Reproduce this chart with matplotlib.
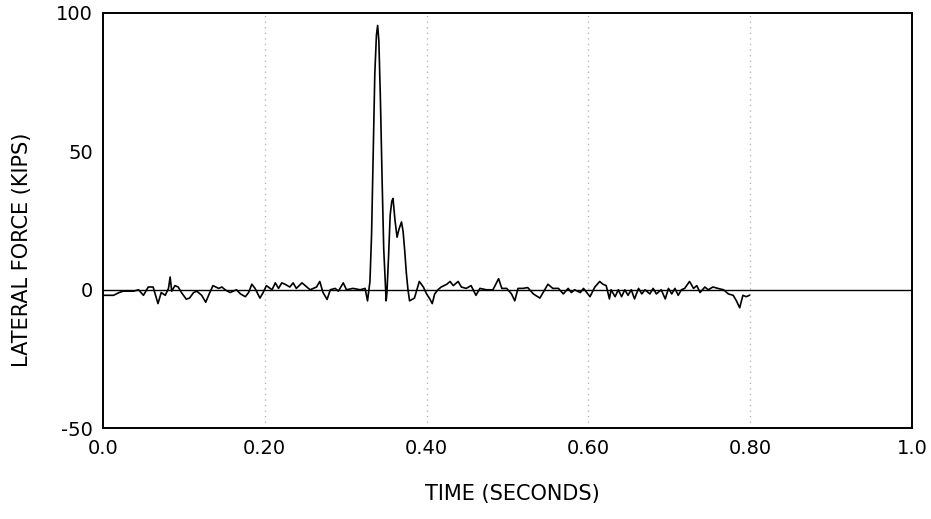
import matplotlib
matplotlib.use("Agg")
import matplotlib.pyplot as plt

plt.rcParams["axes.unicode_minus"] = False

# lateral force trace (time in s, force in kips)
time_s = [
    0.000, 0.013, 0.020, 0.025, 0.038, 0.044, 0.050, 0.056, 0.062, 0.068,
    0.072, 0.077, 0.081, 0.083, 0.085, 0.089, 0.093, 0.097, 0.103, 0.107,
    0.112, 0.116, 0.122, 0.127, 0.132, 0.136, 0.143, 0.147, 0.151, 0.157,
    0.165, 0.170, 0.176, 0.180, 0.184, 0.188, 0.194, 0.198, 0.202, 0.209,
    0.213, 0.217, 0.221, 0.225, 0.231, 0.235, 0.239, 0.246, 0.252, 0.256,
    0.264, 0.268, 0.272, 0.277, 0.281, 0.287, 0.291, 0.297, 0.301, 0.309,
    0.318, 0.324,
    # impact
    0.327, 0.330, 0.332, 0.334, 0.336, 0.338, 0.3395, 0.341, 0.343, 0.345,
    0.347, 0.349, 0.350, 0.351, 0.353, 0.355, 0.357, 0.3585, 0.361, 0.3635,
    0.366, 0.369, 0.371, 0.373, 0.375, 0.377, 0.379,
    # after impact
    0.385, 0.391, 0.396, 0.400, 0.404, 0.407, 0.410, 0.414, 0.418, 0.425,
    0.429, 0.433, 0.439, 0.443, 0.449, 0.455, 0.461, 0.466, 0.474, 0.482,
    0.489, 0.493, 0.499, 0.505, 0.509, 0.513, 0.519, 0.525, 0.532, 0.540,
    0.546, 0.550, 0.556, 0.563, 0.569, 0.575, 0.579, 0.583, 0.590, 0.594,
    0.598, 0.602, 0.608, 0.614, 0.618, 0.622, 0.626, 0.628, 0.633, 0.637,
    0.641, 0.645, 0.649, 0.653, 0.657, 0.662, 0.666, 0.670, 0.676, 0.680,
    0.684, 0.690, 0.695, 0.699, 0.703, 0.707, 0.711, 0.715, 0.719, 0.725,
    0.730, 0.734, 0.738, 0.744, 0.748, 0.754, 0.760, 0.767, 0.773, 0.779,
    0.783, 0.787, 0.791, 0.795, 0.799,
]
force_kips = [
    -2.0, -2.0, -1.0, -0.5, -0.5, 0.0, -2.0, 1.0, 1.0, -5.0,
    -1.0, -2.0, 0.5, 4.6, -0.5, 1.5, 1.0, -1.0, -3.4, -3.0,
    -1.0, -0.5, -2.0, -4.5, -1.0, 1.5, 0.5, 1.0, 0.0, -1.0,
    0.0, -1.5, -2.5, -1.0, 2.0, 0.5, -3.0, -1.0, 1.5, 0.0,
    2.5, 0.5, 2.5, 2.0, 1.0, 2.5, 0.5, 2.5, 1.0, 0.0,
    1.0, 3.0, -1.0, -3.5, 0.0, 0.5, -0.5, 2.5, 0.0, 0.5,
    0.0, 0.5,
    -4.0, 3.0, 20.0, 50.0, 78.0, 92.0, 95.5, 90.0, 68.0, 40.0,
    15.0, 2.0, -4.0, -1.0, 12.0, 27.0, 32.0, 33.0, 25.0, 19.0,
    22.0, 24.5, 21.0, 14.0, 6.0, 0.0, -4.0,
    -3.0, 3.0, 1.0, -1.5, -3.3, -5.0, -1.5, 0.0, 1.0, 2.0,
    3.0, 1.5, 3.0, 1.0, 0.5, 1.5, -2.0, 0.5, 0.0, 0.0,
    4.0, 0.5, 0.5, -1.5, -4.0, 0.5, 0.5, 0.8, -1.5, -3.0,
    0.0, 2.0, 0.5, 0.5, -1.5, 0.5, -1.0, 0.0, -1.0, 0.5,
    -1.0, -2.5, 1.0, 3.0, 2.0, 1.5, -3.3, 0.0, -2.5, 0.0,
    -2.5, 0.0, -2.0, 0.0, -3.3, 0.5, -1.5, 0.0, -1.5, 0.5,
    -1.5, 0.0, -3.3, 0.5, -1.5, 0.5, -2.0, 0.0, 0.5, 3.0,
    0.5, 1.5, -1.0, 1.0, 0.0, 1.0, 0.5, 0.0, -1.5, -2.0,
    -4.0, -6.5, -2.0, -2.5, -2.0,
]

x_ticks = [0.0, 0.2, 0.4, 0.6, 0.8, 1.0]
x_labels = ["0.0", "0.20", "0.40", "0.60", "0.80", "1.0"]
y_ticks = [-50, 0, 50, 100]

fig = plt.figure(figsize=(9.31, 5.19), dpi=100)
ax = fig.add_axes([0.1106, 0.175, 0.869, 0.800])

for gx in x_ticks[1:-1]:
    ax.axvline(gx, color="#b8b8b8", lw=1.0, ls=(0, (1, 3)), zorder=0)
ax.axhline(0, color="black", lw=1.0, zorder=1)
ax.plot(time_s, force_kips, color="black", lw=1.2, zorder=2)

ax.set_xlim(0, 1.0)
ax.set_ylim(-50, 100)
ax.set_xticks(x_ticks)
ax.set_xticklabels(x_labels)
ax.set_yticks(y_ticks)
ax.tick_params(length=0, labelsize=14)
ax.tick_params(axis="x", pad=8)
ax.tick_params(axis="y", pad=7)
for s in ax.spines.values():
    s.set_linewidth(1.4)

ax.set_xlabel("TIME (SECONDS)", fontsize=15)
ax.set_ylabel("LATERAL FORCE (KIPS)", fontsize=15)
ax.xaxis.set_label_coords(0.506, -0.135)
ax.yaxis.set_label_coords(-0.088, 0.43)

fig.savefig("out.png", dpi=100)
